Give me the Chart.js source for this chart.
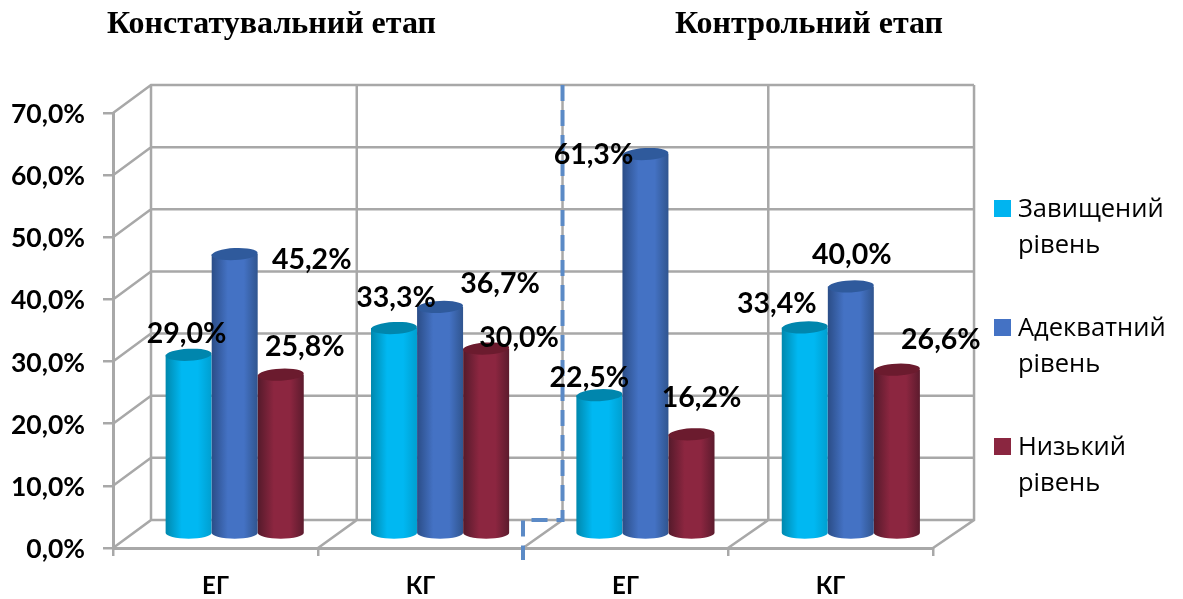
<!DOCTYPE html>
<html>
<head>
<meta charset="utf-8">
<style>
  body { margin: 0; background: #fff; }
</style>
<script src="https://cdn.jsdelivr.net/npm/chart.js@4"></script>
</head>
<body>
<canvas id="chart" width="1183" height="599"></canvas>
<script>
const categories = ['ЕГ', 'КГ', 'ЕГ', 'КГ'];
const highLevel = [29.0, 33.3, 22.5, 33.4];
const adequateLevel = [45.2, 36.7, 61.3, 40.0];
const lowLevel = [25.8, 30.0, 16.2, 26.6];
const seriesNames = [['Завищений', 'рівень'], ['Адекватний', 'рівень'], ['Низький', 'рівень']];
const stageTitles = ['Констатувальний етап', 'Контрольний етап'];

// left edge, centre, right edge, lid
const shades = [
  ['#0088ad', '#00b8f2', '#009fd0', '#0086ad'],
  ['#2b4d87', '#4472c4', '#30558f', '#2f5a9c'],
  ['#551a2b', '#8c2640', '#5c1b2d', '#6b1b2e']
];
const legendColors = ['#00b4f0', '#4472c4', '#8a2640'];

// where each value label sits relative to the top of its cylinder
const labelShift = [
  [[-2, -21], [2, -30], [-10, -17], [-28, -24]],
  [[77, 6], [60, -23], [-52, 1], [1, -32]],
  [[24, -28], [33, -11], [10, -37], [44, -30]]
];

const numberFont = 'Lato, "Open Sans", sans-serif';
const gridColor = '#a8a8a8';

function pct(v) {
  return v.toFixed(1).replace('.', ',') + '%';
}

// 3D box: the chart area is the front plane, the back wall is pushed up and right
function backX(x, area) {
  return x + 38 + (x - area.left) * 0.0037;
}
function backY(y) {
  return y - 28;
}

const wallPlugin = {
  id: 'wall',
  beforeDatasetsDraw(chart) {
    const { ctx, chartArea: area, scales } = chart;
    ctx.save();
    ctx.strokeStyle = gridColor;
    ctx.lineWidth = 2.5;
    ctx.beginPath();
    scales.y.ticks.forEach(t => {
      const y = scales.y.getPixelForValue(t.value);
      ctx.moveTo(area.left, y);
      ctx.lineTo(backX(area.left, area), backY(y));
      ctx.lineTo(backX(area.right, area), backY(y));
    });
    for (let i = 0; i <= categories.length; i++) {
      const x = scales.x.getPixelForValue(i - 0.5);
      ctx.moveTo(x, area.bottom);
      ctx.lineTo(backX(x, area), backY(area.bottom));
      ctx.lineTo(backX(x, area), backY(area.top));
    }
    ctx.stroke();
    ctx.restore();
  }
};

function drawCylinder(ctx, cx, top, bottom, w, colors) {
  const r = w / 2;
  const g = ctx.createLinearGradient(cx - r, 0, cx + r, 0);
  g.addColorStop(0, colors[0]);
  g.addColorStop(0.35, colors[1]);
  g.addColorStop(0.7, colors[1]);
  g.addColorStop(1, colors[2]);
  ctx.fillStyle = g;
  ctx.beginPath();
  ctx.moveTo(cx - r, top);
  ctx.lineTo(cx - r, bottom);
  ctx.ellipse(cx, bottom, r, 6, 0, Math.PI, 0, true);
  ctx.lineTo(cx + r, top);
  ctx.closePath();
  ctx.fill();
  ctx.fillStyle = colors[3];
  ctx.beginPath();
  ctx.ellipse(cx, top, r, 6, -0.05, 0, Math.PI * 2);
  ctx.fill();
}

const cylinderPlugin = {
  id: 'cylinders',
  afterDatasetsDraw(chart) {
    const { ctx, chartArea: area, scales } = chart;
    ctx.save();

    // dashed divider between the two stages
    const mid = scales.x.getPixelForValue(1.5);
    ctx.strokeStyle = '#5b8ac6';
    ctx.lineWidth = 4;
    ctx.setLineDash([16, 9]);
    ctx.beginPath();
    ctx.moveTo(backX(mid, area), backY(area.top));
    ctx.lineTo(backX(mid, area), backY(area.bottom));
    ctx.lineTo(mid, backY(area.bottom));
    ctx.lineTo(mid, area.bottom + 12);
    ctx.stroke();
    ctx.setLineDash([]);

    const tops = [];
    chart.data.datasets.forEach((ds, d) => {
      chart.getDatasetMeta(d).data.forEach((bar, i) => {
        const cx = (bar.x + backX(bar.x, area)) / 2;
        const top = (bar.y + backY(bar.y)) / 2 + 1;
        const bottom = (bar.base + backY(bar.base)) / 2;
        drawCylinder(ctx, cx, top, bottom, bar.width, shades[d]);
        tops.push({ cx, top, d, i, v: ds.data[i] });
      });
    });

    ctx.fillStyle = '#000';
    ctx.font = 'bold 28.5px ' + numberFont;
    ctx.textAlign = 'center';
    ctx.textBaseline = 'middle';
    tops.forEach(p => {
      const s = labelShift[p.d][p.i];
      ctx.fillText(pct(p.v), p.cx + s[0], p.top + s[1]);
    });

    // stage titles
    ctx.textAlign = 'left';
    ctx.font = 'bold 32px "Liberation Serif", serif';
    ctx.fillText(stageTitles[0], 107, 25);
    ctx.fillText(stageTitles[1], 675, 25);

    // legend, text wraps on two lines
    ctx.font = '25.5px "Open Sans", sans-serif';
    seriesNames.forEach((lines, i) => {
      const y = 200 + i * 119;
      ctx.fillStyle = legendColors[i];
      ctx.fillRect(994, y, 17, 17);
      ctx.fillStyle = '#000';
      ctx.fillText(lines[0], 1018, y + 10);
      ctx.fillText(lines[1], 1018, y + 46);
    });
    ctx.restore();
  }
};

new Chart(document.getElementById('chart'), {
  type: 'bar',
  data: {
    labels: categories,
    datasets: [
      { label: seriesNames[0].join(' '), data: highLevel, backgroundColor: 'transparent' },
      { label: seriesNames[1].join(' '), data: adequateLevel, backgroundColor: 'transparent' },
      { label: seriesNames[2].join(' '), data: lowLevel, backgroundColor: 'transparent' }
    ]
  },
  plugins: [wallPlugin, cylinderPlugin],
  options: {
    responsive: false,
    animation: false,
    layout: { padding: { top: 113, right: 250, left: 0, bottom: 0 } },
    datasets: { bar: { barPercentage: 1, categoryPercentage: 0.673 } },
    plugins: { legend: { display: false }, tooltip: { enabled: false } },
    scales: {
      x: {
        afterFit: s => { s.height = 51; },
        grid: { drawOnChartArea: false, color: gridColor, lineWidth: 2.5, tickLength: 8 },
        border: { color: gridColor, width: 3 },
        ticks: { color: '#000', font: { family: numberFont, size: 24, weight: 'bold' }, padding: 16 }
      },
      y: {
        min: 0,
        max: 70,
        afterFit: s => { s.width = 113; },
        grid: { drawOnChartArea: false, color: gridColor, lineWidth: 2.5, tickLength: 10 },
        border: { color: gridColor, width: 3 },
        ticks: {
          stepSize: 10,
          color: '#000',
          padding: 18,
          labelOffset: 1.5,
          font: { family: numberFont, size: 26.5, weight: 'bold' },
          callback: v => pct(v)
        }
      }
    }
  }
});
</script>
</body>
</html>
